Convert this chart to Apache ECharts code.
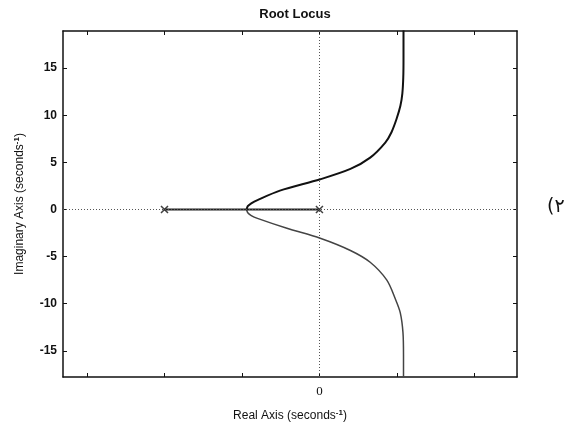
<!DOCTYPE html>
<html>
<head>
    <meta charset="utf-8"/>
    <title>Root Locus</title>
    <script src="https://cdn.jsdelivr.net/npm/echarts@6/dist/echarts.min.js"></script>
    <style>
        html, body { margin: 0; padding: 0; background: #fff; }
        #myChart { width: 568px; height: 427px; }
    </style>
</head>
<body>
<div id="myChart"></div>
<script>
    // 上半支
    var upperX = [-0.94, -0.925, -0.88, -0.8, -0.51, 0.01, 0.40, 0.655, 0.85, 0.93, 0.995, 1.045, 1.07, 1.082, 1.085, 1.085];
    var upperY = [0, 0.35, 0.65, 1.0, 2.0, 3.2, 4.3, 5.5, 7.1, 8.2, 9.6, 11.0, 12.3, 14.0, 16, 19];
    // 下半支
    var lowerX = [-0.94, -0.925, -0.88, -0.8, -0.42, 0.01, 0.40, 0.655, 0.87, 0.98, 1.043, 1.078, 1.085, 1.085];
    var lowerY = [0, -0.35, -0.65, -0.95, -2.0, -3.05, -4.35, -5.6, -7.5, -9.5, -10.95, -13.05, -15.5, -17.8];
    // 实轴上的根轨迹
    var realX = [-2, 0];
    // 极点
    var polesX = [-2, 0];
    var xTicks = [-3, -2, -1, 0, 1, 2];
    var xLabels = [0];
    var yTicks = [-15, -10, -5, 0, 5, 10, 15];

    var pair = function (xs, ys) {
        var out = [];
        for (var i = 0; i < xs.length; i++) out.push([xs[i], ys[i]]);
        return out;
    };

    var myChart = echarts.init(document.getElementById('myChart'));
    var boxLine = {show: true, onZero: false, lineStyle: {color: '#111', width: 1.5}};
    var tick = function (vals) {
        return {show: true, inside: true, length: 4, customValues: vals, lineStyle: {color: '#111', width: 1}};
    };
    var option = {
        animation: false,
        backgroundColor: '#fff',
        title: {
            text: 'Root Locus',
            left: 290, top: 3, textAlign: 'center',
            textStyle: {fontFamily: 'Liberation Sans', fontWeight: 'bold', fontSize: 13, color: '#111'}
        },
        graphic: [{
            type: 'text', left: 547, top: 198,
            style: {text: '(۲', font: '19px "DejaVu Sans"', fill: '#111'}
        }],
        grid: {left: 63, right: 51, top: 31, bottom: 49},
        xAxis: [{
            type: 'value', min: -3.31, max: 2.55, position: 'bottom',
            axisLine: boxLine, splitLine: {show: false},
            axisTick: tick(xTicks),
            axisLabel: {customValues: xLabels, margin: 8, fontFamily: 'Liberation Serif', fontSize: 13, color: '#111'},
            name: 'Real Axis (seconds{sup|-1})', nameLocation: 'middle', nameGap: 32,
            nameTextStyle: {fontFamily: 'Liberation Sans', fontSize: 12, color: '#111',
                rich: {sup: {fontFamily: 'Liberation Sans', fontSize: 8, fontWeight: 'bold', verticalAlign: 'top', padding: [0, 0, 6, 0]}}}
        }, {
            type: 'value', min: -3.31, max: 2.55, position: 'top',
            axisLine: boxLine, splitLine: {show: false},
            axisTick: tick(xTicks), axisLabel: {show: false}
        }],
        yAxis: [{
            type: 'value', min: -17.78, max: 18.94, position: 'left',
            axisLine: boxLine, splitLine: {show: false},
            axisTick: tick(yTicks),
            axisLabel: {customValues: yTicks, margin: 6, fontFamily: 'Liberation Sans', fontWeight: 'bold', fontSize: 12, color: '#111'},
            name: 'Imaginary Axis (seconds{sup|-1})', nameLocation: 'middle', nameGap: 36, nameRotate: 90,
            nameTextStyle: {fontFamily: 'Liberation Sans', fontSize: 12, color: '#111',
                rich: {sup: {fontFamily: 'Liberation Sans', fontSize: 8, fontWeight: 'bold', padding: [0, 0, 6, 0]}}}
        }, {
            type: 'value', min: -17.78, max: 18.94, position: 'right',
            axisLine: boxLine, splitLine: {show: false},
            axisTick: tick(yTicks), axisLabel: {show: false}
        }],
        series: [{
            type: 'line', data: pair(upperX, upperY), smooth: 0.3, symbol: 'none',
            lineStyle: {color: '#111', width: 2},
            markLine: {
                silent: true, symbol: 'none', label: {show: false},
                lineStyle: {color: '#555', type: [1, 2], width: 1},
                data: [{xAxis: 0}, {yAxis: 0}]
            }
        }, {
            type: 'line', data: pair(lowerX, lowerY), smooth: 0.3, symbol: 'none',
            lineStyle: {color: '#444', width: 1.5}
        }, {
            type: 'line', data: pair(realX, [0, 0]), symbol: 'none',
            lineStyle: {color: '#222', width: 2}
        }, {
            type: 'scatter', data: pair(polesX, [0, 0]),
            symbol: 'path://M0,0L10,10M10,0L0,10', symbolSize: 7,
            itemStyle: {color: 'none', borderColor: '#111', borderWidth: 1.5}
        }]
    };
    myChart.setOption(option);
</script>
</body>
</html>
